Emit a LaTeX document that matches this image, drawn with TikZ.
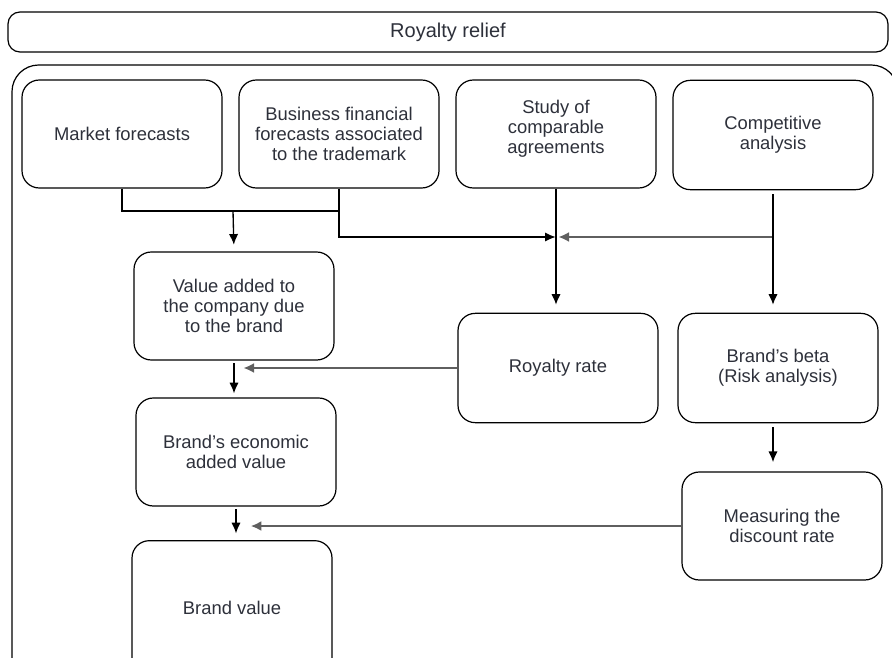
\documentclass[tikz,border=0pt]{standalone}
\usepackage{fontspec}
\setmainfont{Liberation Sans}
\usetikzlibrary{arrows.meta}
\definecolor{txt}{RGB}{45,48,58}
\definecolor{ln}{RGB}{95,95,95}
\tikzset{
  box/.style={shape=rectangle,rounded corners=13pt,draw=black,line width=0.9pt,align=center,inner sep=0pt,minimum width=150pt,minimum height=81pt,text=txt,font=\fontsize{13.8}{15}\selectfont},
  arr/.style={-{Latex[length=8pt,width=7pt]},draw=black,line width=1pt},
  garr/.style={-{Latex[length=8pt,width=7.5pt]},draw=ln,line width=2pt},
}

\begin{document}
\begin{tikzpicture}[x=0.75pt,y=-0.75pt]
\useasboundingbox (0,0) rectangle (892,657);
\node[box,minimum width=660pt,minimum height=30pt,rounded corners=9pt,font=\fontsize{15}{17}\selectfont] (t) at (448,32) {Royalty relief};
\draw[line width=0.9pt,rounded corners=20pt] (12,65) rectangle (898,700);

\node[box] (0) at (122,134) {Market forecasts};
\node[box] (1) at (339,134) {Business financial\\forecasts associated\\to the trademark};
\node[box] (2) at (556,134) {Study of\\comparable\\agreements\\[-4pt]\mbox{}};
\node[box,minimum height=82pt] (3) at (773,135) {Competitive\\analysis};
\node[box] (4) at (234,306) {Value added to\\the company due\\to the brand};
\node[box,minimum height=82pt] (5) at (558,368) {Royalty rate};
\node[box,minimum height=82pt] (6) at (778,368) {Brand's beta\\(Risk analysis)};
\node[box] (7) at (236,452) {Brand's economic\\added value};
\node[box] (8) at (782,526) {Measuring the\\discount rate};
\node[box,minimum height=101pt] (9) at (232,608) {Brand value};

\coordinate (a) at (233,211);
\coordinate (b) at (557,237);
\draw[line width=1pt] (0.south) |- (1.south |- a);
\draw[arr,shorten >=5pt] (a) -- (4.north);
\draw[arr] (1.south) |- ([xshift=-1pt]b);
\draw[garr] (3.south |- b) -- ([xshift=1pt]b);
\draw[arr,shorten >=6pt] (2.south) -- (2.south |- 5.north);
\draw[arr,shorten <=3pt,shorten >=6pt] (3.south) -- (3.south |- 6.north);
\draw[arr,shorten <=2pt,shorten >=3pt] (4.south) -- (4.south |- 7.north);
\draw[garr] (5.west) -- ([xshift=7pt]4.south |- 5.west);
\draw[arr,shorten <=3pt,shorten >=7pt] (3.south |- 6.south) -- (3.south |- 8.north);
\draw[garr] (8.west) -- ([xshift=11pt]7.south |- 8.west);
\draw[arr,shorten <=2pt,shorten >=5pt] (7.south) -- (7.south |- 9.north);
\end{tikzpicture}
\end{document}
